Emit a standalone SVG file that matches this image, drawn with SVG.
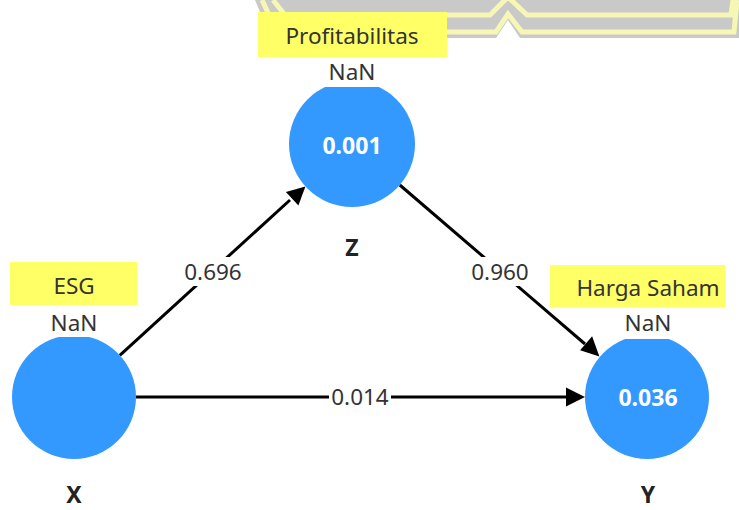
<svg xmlns="http://www.w3.org/2000/svg" width="739" height="510" viewBox="0 0 739 510">
<style>
.lbl{font-family:"Noto Sans","Open Sans",sans-serif;font-size:22.5px;fill:#333;text-anchor:middle}
.val{font-family:"Noto Sans","Open Sans",sans-serif;font-size:23px;font-weight:bold;fill:#fff;text-anchor:middle}
.name{font-family:"Noto Sans","Open Sans",sans-serif;font-size:23px;font-weight:bold;fill:#222;text-anchor:middle}
.circ{fill:#3399ff}
.tag{fill:#ffff66}
.edge{stroke:#000;stroke-width:3;fill:none}
</style>
<g id="watermark">
<polygon points="255,0 271,38 496,38 508,20 520,38 739,38 739,0" fill="#c9c9c9"/>
<polyline points="262,0 277,32 496,32 508,14 522,32 734,32 737,0" fill="none" stroke="#f7f7b5" stroke-width="5"/>
<polyline points="273,0 285,15 490,15 508,-3 527,15 731,15 733,0" fill="none" stroke="#f7f7b5" stroke-width="5"/>
</g>
<g id="connectors">
<path class="edge" d="M119.8,355.3 L290,200"/>
<polygon points="305.4,186.4 298.4,205.6 285.9,191.9" fill="#000"/>
<path class="edge" d="M399.8,185 L585,344"/>
<polygon points="599.4,356.6 580.1,350.3 592.1,336.2" fill="#000"/>
<path class="edge" d="M136,397 L568,397"/>
<polygon points="585,397 566,406.5 566,387.5" fill="#000"/>
<rect x="182" y="257" width="62" height="29" fill="#fff"/>
<text class="lbl" x="213" y="280">0.696</text>
<rect x="469" y="257" width="62" height="29" fill="#fff"/>
<text class="lbl" x="500" y="280">0.960</text>
<rect x="329" y="383" width="62" height="29" fill="#fff"/>
<text class="lbl" x="360" y="405">0.014</text>
</g>
<g id="node-Z">
<circle class="circ" cx="352" cy="144" r="63"/>
<rect class="tag" x="258" y="12" width="189" height="45"/>
<rect x="325" y="57" width="55" height="30" fill="#fff"/>
<text class="lbl" x="352" y="44">Profitabilitas</text>
<text class="lbl" x="352" y="80">NaN</text>
<text class="val" x="352" y="154">0.001</text>
<text class="name" x="352" y="256">Z</text>
</g>
<g id="node-X">
<circle class="circ" cx="74" cy="397" r="62"/>
<rect class="tag" x="10" y="262" width="127" height="43"/>
<rect x="46" y="305" width="55" height="32" fill="#fff"/>
<text class="lbl" x="74" y="294">ESG</text>
<text class="lbl" x="74" y="331">NaN</text>
<text class="name" x="74" y="503">X</text>
</g>
<g id="node-Y">
<circle class="circ" cx="647" cy="397" r="62"/>
<rect class="tag" x="550" y="265" width="175" height="42"/>
<rect x="620" y="307" width="55" height="32" fill="#fff"/>
<text class="lbl" x="648" y="296">Harga Saham</text>
<text class="lbl" x="648" y="331">NaN</text>
<text class="val" x="648" y="406">0.036</text>
<text class="name" x="648" y="503">Y</text>
</g>
</svg>
